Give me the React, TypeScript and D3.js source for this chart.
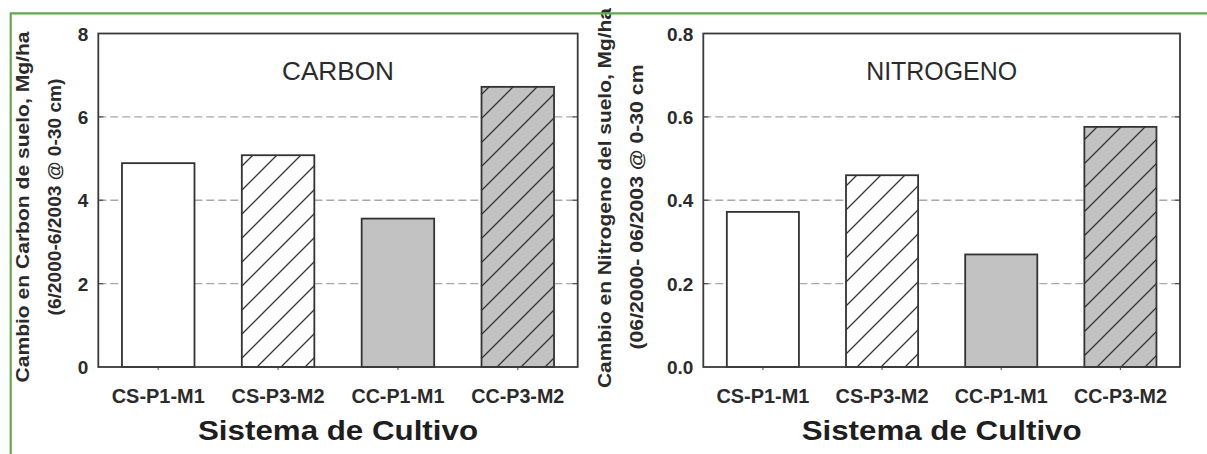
import React from "react";
import * as d3 from "d3";

const categories = ["CS-P1-M1", "CS-P3-M2", "CC-P1-M1", "CC-P3-M2"];
const carbonValues = [4.89, 5.08, 3.56, 6.72];
const nitrogenValues = [0.372, 0.46, 0.27, 0.576];
const carbonTicks = [0, 2, 4, 6, 8];
const carbonTickLabels = ["0", "2", "4", "6", "8"];
const nitrogenTicks = [0, 0.2, 0.4, 0.6, 0.8];
const nitrogenTickLabels = ["0.0", "0.2", "0.4", "0.6", "0.8"];

// bar looks per category: fill + hatch
const barFill = ["#ffffff", "#ffffff", "#c2c2c2", "#c2c2c2"];
const barHatch = [false, true, false, true];

const W = 1207;
const H = 454;
const font = "'Liberation Sans', Arial, Helvetica, sans-serif";
const ink = "#2b2b2b";

function Panel({
  x0,
  x1,
  values,
  ticks,
  tickLabels,
  yMax,
  title,
  titleLen,
  yLabel1,
  yLabel2,
  yl1,
  yl2,
  id,
}) {
  const top = 33.5;
  const bottom = 367;
  const x = d3
    .scaleBand()
    .domain(categories)
    .range([x0, x1])
    .paddingInner(0.395)
    .paddingOuter(0.1975);
  const y = d3.scaleLinear().domain([0, yMax]).range([bottom, top]);
  const cx = (x0 + x1) / 2;

  return (
    <g>
      {/* dashed grid */}
      {ticks
        .filter((t) => t > 0 && t < yMax)
        .map((t) => (
          <g key={"g" + t}>
            <line
              x1={x0}
              x2={x1}
              y1={y(t)}
              y2={y(t)}
              stroke="#a8a8a8"
              strokeWidth={1.3}
              strokeDasharray="8,4"
            />
            <line x1={x0} x2={x0 + 5} y1={y(t)} y2={y(t)} stroke="#555" strokeWidth={1.3} />
            <line x1={x1 - 5} x2={x1} y1={y(t)} y2={y(t)} stroke="#555" strokeWidth={1.3} />
          </g>
        ))}

      {/* bars */}
      {values.map((v, i) => {
        const bx = x(categories[i]);
        return (
          <g key={categories[i]}>
            <rect
              x={bx}
              y={y(v)}
              width={x.bandwidth()}
              height={bottom - y(v)}
              fill={barFill[i]}
            />
            {barHatch[i] && (
              <rect
                x={bx}
                y={y(v)}
                width={x.bandwidth()}
                height={bottom - y(v)}
                fill={`url(#hatch-${id})`}
              />
            )}
            <rect
              x={bx}
              y={y(v)}
              width={x.bandwidth()}
              height={bottom - y(v)}
              fill="none"
              stroke="#333"
              strokeWidth={1.8}
            />
            <line
              x1={bx + x.bandwidth() / 2}
              x2={bx + x.bandwidth() / 2}
              y1={bottom}
              y2={bottom + 3}
              stroke="#666"
              strokeWidth={1.2}
            />
            <text
              x={bx + x.bandwidth() / 2}
              y={403}
              textAnchor="middle"
              fontFamily={font}
              fontWeight="bold"
              fontSize={21}
              fill={ink}
              textLength={93}
              lengthAdjust="spacingAndGlyphs"
            >
              {categories[i]}
            </text>
          </g>
        );
      })}

      {/* frame */}
      <rect
        x={x0}
        y={top}
        width={x1 - x0}
        height={bottom - top}
        fill="none"
        stroke="#3a3a3a"
        strokeWidth={1.8}
      />

      {/* y tick labels */}
      {ticks.map((t, i) => (
        <text
          key={"t" + t}
          x={x0 - 10}
          y={y(t) + 7}
          textAnchor="end"
          fontFamily={font}
          fontWeight="bold"
          fontSize={19}
          fill={ink}
        >
          {tickLabels[i]}
        </text>
      ))}

      <text
        x={cx}
        y={80}
        textAnchor="middle"
        fontFamily={font}
        fontSize={25}
        fill={ink}
        textLength={titleLen}
        lengthAdjust="spacingAndGlyphs"
      >
        {title}
      </text>

      <text
        x={cx}
        y={440}
        textAnchor="middle"
        fontFamily={font}
        fontWeight="bold"
        fontSize={28}
        fill="#1e1e1e"
        textLength={280}
        lengthAdjust="spacingAndGlyphs"
      >
        Sistema de Cultivo
      </text>

      <text
        transform={`translate(${yl1.x},${yl1.y}) rotate(-90)`}
        textAnchor="middle"
        dy="0.36em"
        fontFamily={font}
        fontWeight="bold"
        fontSize={18}
        fill={ink}
        textLength={yl1.len}
        lengthAdjust="spacingAndGlyphs"
      >
        {yLabel1}
      </text>
      <text
        transform={`translate(${yl2.x},${yl2.y}) rotate(-90)`}
        textAnchor="middle"
        dy="0.36em"
        fontFamily={font}
        fontWeight="bold"
        fontSize={18}
        fill={ink}
        textLength={yl2.len}
        lengthAdjust="spacingAndGlyphs"
      >
        {yLabel2}
      </text>
    </g>
  );
}

export default function App() {
  const hatchDefs = ["c", "n"].map((id) => (
    <pattern
      key={id}
      id={`hatch-${id}`}
      patternUnits="userSpaceOnUse"
      width={24}
      height={24}
    >
      <path
        d="M-6,6 L6,-6 M0,24 L24,0 M18,30 L30,18"
        stroke="#333"
        strokeWidth={1.3}
      />
    </pattern>
  ));

  return (
    <svg
      width={W}
      height={H}
      style={{ position: "absolute", left: 0, top: 0, background: "#fff" }}
    >
      <defs>{hatchDefs}</defs>
      <rect x={0} y={0} width={W} height={H} fill="#fff" />

      <Panel
        id="c"
        x0={98.3}
        x1={577.7}
        values={carbonValues}
        ticks={carbonTicks}
        tickLabels={carbonTickLabels}
        yMax={8}
        title="CARBON"
        titleLen={112}
        yLabel1="Cambio en Carbon de suelo, Mg/ha"
        yLabel2="(6/2000-6/2003 @ 0-30 cm)"
        yl1={{ x: 23, y: 207, len: 351 }}
        yl2={{ x: 55, y: 197, len: 237 }}
      />
      <Panel
        id="n"
        x0={703.3}
        x1={1180}
        values={nitrogenValues}
        ticks={nitrogenTicks}
        tickLabels={nitrogenTickLabels}
        yMax={0.8}
        title="NITROGENO"
        titleLen={151}
        yLabel1="Cambio en Nitrogeno del suelo, Mg/ha"
        yLabel2="(06/2000- 06/2003 @ 0-30 cm"
        yl1={{ x: 605, y: 198, len: 380 }}
        yl2={{ x: 637, y: 207, len: 285 }}
      />

      {/* green frame */}
      <path d={`M10.7,${H} L10.7,13.3 L${W},13.3`} fill="none" stroke="#62a84c" strokeWidth={2.2} />
    </svg>
  );
}
